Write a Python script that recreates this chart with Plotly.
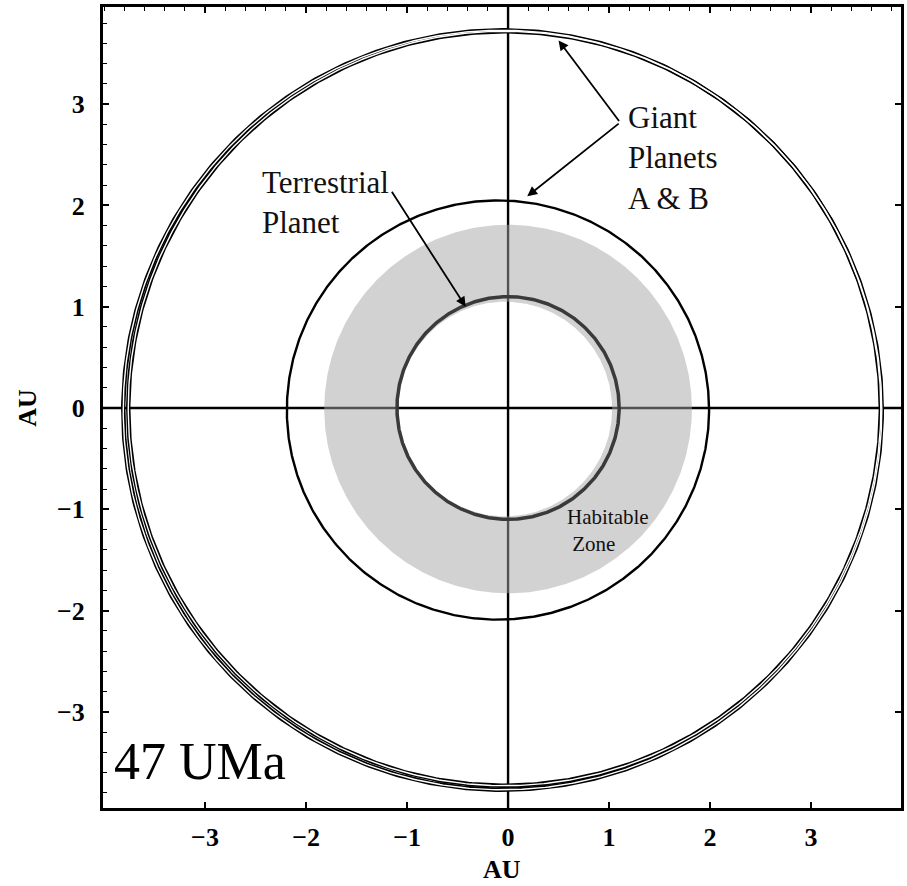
import numpy as np
import plotly.graph_objects as go

# ---- data (AU) ----
# outer giant planet orbit traces: centre x, centre y, semi-axis x, semi-axis y
outer_xc = [-0.055, -0.035]
outer_yc = [-0.02, -0.005]
outer_ax = [3.755, 3.725]
outer_ay = [3.75, 3.725]
# inner giant planet orbit
mid_xc, mid_yc, mid_ax, mid_ay = -0.10, -0.02, 2.09, 2.07
# habitable zone (annulus)
hz_center = [0.0, -0.01]
hz_inner = 1.06
hz_outer = 1.82
# terrestrial planet orbit
terr_r = 1.10
# axis ranges / ticks
x_range = [-4.01, 3.89]
y_range = [-3.95, 3.96]
tick_vals = [-3, -2, -1, 0, 1, 2, 3]

t = np.linspace(0, 2 * np.pi, 721)
fig = go.Figure()

# zero lines
fig.add_trace(go.Scatter(x=x_range, y=[0, 0], mode="lines",
                         line=dict(color="black", width=2.4), hoverinfo="skip"))
fig.add_trace(go.Scatter(x=[0, 0], y=y_range, mode="lines",
                         line=dict(color="black", width=2.4), hoverinfo="skip"))

# habitable zone annulus (outer CCW, inner CW)
ox = hz_center[0] + hz_outer * np.cos(t)
oy = hz_center[1] + hz_outer * np.sin(t)
ix = hz_center[0] - 0.03 + hz_inner * np.cos(-t)
iy = hz_center[1] + hz_inner * np.sin(-t)
fig.add_trace(go.Scatter(x=np.concatenate([ox, ix, ox[:1]]),
                         y=np.concatenate([oy, iy, oy[:1]]),
                         mode="lines", fill="toself",
                         fillcolor="rgba(165,165,165,0.5)",
                         line=dict(width=0, color="rgba(0,0,0,0)"), hoverinfo="skip"))

# terrestrial orbit
fig.add_trace(go.Scatter(x=terr_r * np.cos(t), y=terr_r * np.sin(t), mode="lines",
                         line=dict(color="#3a3a3a", width=3.5), hoverinfo="skip"))

# inner giant orbit
fig.add_trace(go.Scatter(x=mid_xc + mid_ax * np.cos(t), y=mid_yc + mid_ay * np.sin(t),
                         mode="lines", line=dict(color="black", width=2.4), hoverinfo="skip"))

# outer giant orbits (hollow double lines)
for xc, yc, a, b in zip(outer_xc, outer_yc, outer_ax, outer_ay):
    fig.add_trace(go.Scatter(x=xc + a * np.cos(t), y=yc + b * np.sin(t), mode="lines",
                             line=dict(color="black", width=4.4), hoverinfo="skip"))
for xc, yc, a, b in zip(outer_xc, outer_yc, outer_ax, outer_ay):
    fig.add_trace(go.Scatter(x=xc + a * np.cos(t), y=yc + b * np.sin(t), mode="lines",
                             line=dict(color="white", width=1.4), hoverinfo="skip"))

# dummy trace on secondary axes so they render
fig.add_trace(go.Scatter(x=[0], y=[0], xaxis="x2", yaxis="y2", mode="markers",
                         marker=dict(opacity=0), hoverinfo="skip"))

serif = "Liberation Serif, Times New Roman, serif"
tickfont = dict(family=serif, size=26, color="black", weight="bold")

fig.update_layout(
    width=907, height=886,
    margin=dict(l=103, r=6, t=7, b=78),
    paper_bgcolor="white", plot_bgcolor="white",
    showlegend=False,
    xaxis=dict(range=x_range, tickvals=tick_vals, ticks="inside", ticklen=6, tickwidth=1.5,
               tickcolor="black", showgrid=False, zeroline=False, showline=True,
               linecolor="black", linewidth=3, tickfont=tickfont, ticklabelstandoff=4,
               automargin=False),
    xaxis2=dict(range=x_range, overlaying="x", side="top", matches="x", tickvals=tick_vals,
                ticks="inside", ticklen=6, tickwidth=1.5, tickcolor="black",
                showticklabels=False, showgrid=False, zeroline=False, showline=True,
                linecolor="black", linewidth=3, automargin=False,
                minor=dict(dtick=0.2, tick0=0, ticks="inside", ticklen=4, tickwidth=1.2,
                           tickcolor="black", showgrid=False)),
    yaxis=dict(range=y_range, tickvals=tick_vals, ticks="inside", ticklen=6, tickwidth=1.5,
               tickcolor="black", showgrid=False, zeroline=False, showline=True,
               linecolor="black", linewidth=3, tickfont=tickfont, ticklabelstandoff=10,
               automargin=False,
               minor=dict(dtick=0.2, tick0=0, ticks="inside", ticklen=4, tickwidth=1.2,
                          tickcolor="black", showgrid=False)),
    yaxis2=dict(range=y_range, overlaying="y", side="right", matches="y", tickvals=tick_vals,
                ticks="inside", ticklen=6, tickwidth=1.5, tickcolor="black",
                showticklabels=False, showgrid=False, zeroline=False, showline=True,
                linecolor="black", linewidth=3, automargin=False),
)

ann = []
txt = dict(family=serif, color="#111111")
ann.append(dict(x=1.17, y=2.47, xref="x", yref="y", text="Giant<br>Planets<br>A & B",
                showarrow=False, xanchor="left", yanchor="middle", align="left",
                font=dict(size=31, **txt)))
ann.append(dict(x=-2.46, y=2.03, xref="x", yref="y", text="Terrestrial<br>Planet",
                showarrow=False, xanchor="left", yanchor="middle", align="left",
                font=dict(size=31, **txt)))
ann.append(dict(x=0.56, y=-1.21, xref="x", yref="y", text="Habitable<br> Zone",
                showarrow=False, xanchor="left", yanchor="middle", align="left",
                font=dict(size=21, **txt)))
ann.append(dict(x=-3.92, y=-3.49, xref="x", yref="y", text="47 UMa",
                showarrow=False, xanchor="left", yanchor="middle",
                font=dict(size=52, family=serif, color="black")))
# arrows
arrow = dict(text="", showarrow=True, arrowhead=2, arrowsize=1.1, arrowwidth=1.8,
             arrowcolor="black", xref="x", yref="y", axref="x", ayref="y")
ann.append(dict(x=0.50, y=3.63, ax=1.11, ay=2.82, **arrow))
ann.append(dict(x=0.19, y=2.09, ax=1.11, ay=2.82, **arrow))
ann.append(dict(x=-0.42, y=1.00, ax=-1.16, ay=2.15, **arrow))
# axis titles
ann.append(dict(x=0.5, y=-0.077, xref="paper", yref="paper", text="AU", showarrow=False,
                xanchor="center", yanchor="middle",
                font=dict(size=26, family=serif, color="black", weight="bold")))
ann.append(dict(x=-0.095, y=0.5, xref="paper", yref="paper", text="AU", showarrow=False,
                xanchor="center", yanchor="middle", textangle=-90,
                font=dict(size=26, family=serif, color="black", weight="bold")))
fig.update_layout(annotations=ann)

fig.write_html("out.html", config={"displayModeBar": False},
               post_script="document.body.style.margin='0px';document.body.style.padding='0px';")
